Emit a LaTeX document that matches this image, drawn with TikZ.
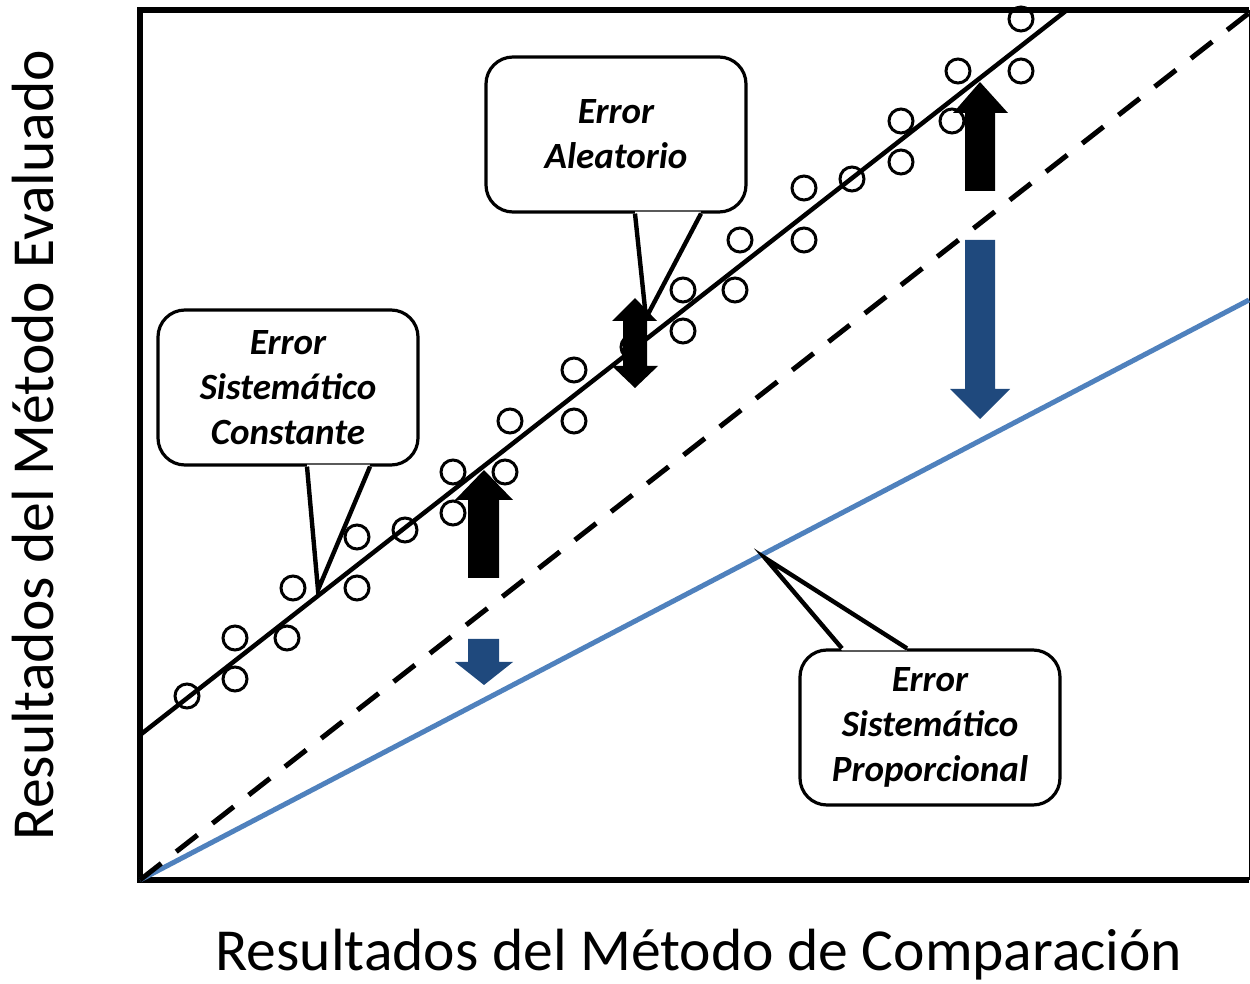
\documentclass[tikz,border=0pt]{standalone}
\usepackage{fontspec}
\setmainfont{Carlito}
\usetikzlibrary{calc}

\definecolor{lineblue}{RGB}{79,129,189}
\definecolor{arrowblue}{RGB}{31,73,125}

\tikzset{
  frame/.style={line width=3pt},
  dot/.style={line width=1.5pt},
  callbox/.style={draw, fill=white, line width=1.6pt, rounded corners=13.5pt,
    minimum width=130pt, minimum height=77.5pt, inner sep=0pt, align=center,
    font=\bfseries\itshape\fontsize{18.5}{22.5}\selectfont},
  pointer/.style={line width=2.2pt, line join=miter},
  axislabel/.style={font=\fontsize{29.8}{32}\selectfont}
}

\begin{document}
\begin{tikzpicture}[x=0.5pt,y=-0.5pt]
    \useasboundingbox (0,0) rectangle (1250,984);

    % Define the frame of the plot
    \draw[frame] (1249,10) -- (140,10) -- (140,880) -- (1249,880);
    \draw[line width=0.5pt] (1249,10) -- (1249,880);

    % Draw the three lines
    \draw[line width=2.5pt, lineblue] (140,880) -- (1249,300);
    \draw[line width=2.5pt, dash pattern=on 13.5pt off 9.5pt] (140,880) -- (1249,13);
    \draw[line width=2.25pt] (140,735) -- (1067,10);

    % Add the measured points
    \draw[dot] (187,696) circle (6pt) (235,638) circle (6pt) (235,679) circle (6pt)
        (287,638) circle (6pt) (293,588) circle (6pt) (357,537) circle (6pt)
        (357,588) circle (6pt) (405,530) circle (6pt) (453,472) circle (6pt)
        (453,513) circle (6pt) (505,472) circle (6pt) (510,421) circle (6pt)
        (574,370) circle (6pt) (574,421) circle (6pt) (633,347) circle (6pt)
        (683,290) circle (6pt) (683,331) circle (6pt) (735,290) circle (6pt)
        (740,240) circle (6pt) (804,188) circle (6pt) (804,240) circle (6pt)
        (852,179) circle (6pt) (901,121) circle (6pt) (901,162) circle (6pt)
        (952,121) circle (6pt) (958,71) circle (6pt) (1021,19) circle (6pt)
        (1021,71) circle (6pt);

    % Black arrows up to the fitted line
    \fill (484,470) -- (513,500) -- (499,500) -- (499,578) -- (468,578) -- (468,500) -- (455,500) -- cycle;
    \fill (980,82) -- (1008,113) -- (995,113) -- (995,191) -- (965,191) -- (965,113) -- (953,113) -- cycle;
    \fill (635,298) -- (657,321) -- (647,321) -- (647,366) -- (658,366) -- (635,388)
        -- (612,366) -- (623,366) -- (623,321) -- (612,321) -- cycle;

    % Blue arrows down to the proportional line
    \fill[arrowblue] (484,685) -- (513,662) -- (499,662) -- (499,639) -- (468,639) -- (468,662) -- (455,662) -- cycle;
    \fill[arrowblue] (980,419) -- (1010,389) -- (995,389) -- (995,240) -- (965,240) -- (965,389) -- (950,389) -- cycle;

    % Callouts
    \node[callbox] (aleatorio) at (616,134.5) {Error\\Aleatorio};
    \coordinate (aleatorioTip) at (646,318);
    \fill[white] ($(aleatorio.south)+(19,-2)$) -- (aleatorioTip) -- ($(aleatorio.south)+(85,-2)$) -- cycle;
    \draw[pointer] ($(aleatorio.south)+(19,0)$) -- (aleatorioTip) -- ($(aleatorio.south)+(85,0)$);

    \node[callbox] (constante) at (288,387.5) {Error\\Sistemático\\Constante};
    \coordinate (constanteTip) at (318,590);
    \fill[white] ($(constante.south)+(19,-2)$) -- (constanteTip) -- ($(constante.south)+(82,-2)$) -- cycle;
    \draw[pointer] ($(constante.south)+(19,0)$) -- (constanteTip) -- ($(constante.south)+(82,0)$);

    \node[callbox] (proporcional) at (930,727.5) {Error\\Sistemático\\Proporcional};
    \coordinate (proporcionalTip) at (765,558);
    \fill[white] ($(proporcional.north)+(-88,2)$) -- (proporcionalTip) -- ($(proporcional.north)+(-23,2)$) -- cycle;
    \draw[pointer] ($(proporcional.north)+(-88,0)$) -- (proporcionalTip) -- ($(proporcional.north)+(-23,0)$);

    % Axis labels
    \node[axislabel, anchor=base] (xlabel) at (699,971) {Resultados del Método de Comparación};
    \node[axislabel, rotate=90, anchor=base] (ylabel) at (54,445) {Resultados del Método Evaluado};
\end{tikzpicture}
\end{document}
